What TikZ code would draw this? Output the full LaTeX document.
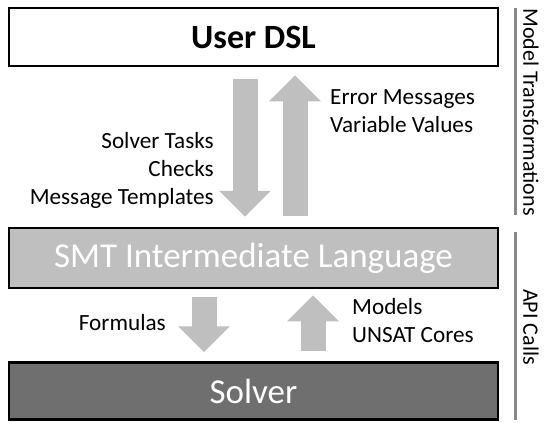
\documentclass[tikz,border=0pt]{standalone}
\usepackage{fontspec}
\setmainfont{Carlito}
\usepackage{xcolor}
\usetikzlibrary{arrows.meta, positioning}

\definecolor{lightgrey}{HTML}{BFBFBF}
\definecolor{darkgrey}{HTML}{6F6F6F}
\definecolor{bargrey}{HTML}{888888}

\begin{document}
\begin{tikzpicture}[
    x=1pt, y=-1pt,
    tier/.style={rectangle, draw, line width=2.5pt, minimum width=489pt, font=\fontsize{35}{38}\selectfont},
    flow/.style={draw=lightgrey, line width=25pt, -{Triangle[width=50pt, length=26pt]}},
    note/.style={font=\fontsize{23.2}{28}\selectfont, inner sep=0pt},
    side/.style={font=\fontsize{22}{26}\selectfont, rotate=-90, inner sep=0pt},
    bar/.style={draw=bargrey, line width=3pt}
]
\useasboundingbox (0,0) rectangle (544,423);

% Layers
\node[tier, fill=white, minimum height=58pt, font=\fontsize{34}{36}\selectfont\bfseries] (dsl) at (253.5,37) {User DSL};
\node[tier, fill=lightgrey, text=white, minimum height=60pt] (smt) at (253.5,258) {SMT Intermediate Language};
\node[tier, fill=darkgrey, text=white, minimum height=57pt] (solver) at (253.5,391) {Solver};

% Model transformation arrows
\draw[flow] ([xshift=-8.5pt, yshift=-12pt]dsl.south) -- ([xshift=-8.5pt, yshift=10pt]smt.north);
\draw[flow] ([xshift=41.5pt, yshift=11pt]smt.north) -- ([xshift=41.5pt, yshift=-8pt]dsl.south);

% API call arrows
\draw[flow] ([xshift=-49.5pt, yshift=-8pt]smt.south) -- ([xshift=-49.5pt, yshift=9pt]solver.north);
\draw[flow] ([xshift=59.5pt, yshift=10pt]solver.north) -- ([xshift=59.5pt, yshift=-6pt]smt.south);

% Labels
\node[note, align=right, anchor=east] (tasks) at (214,170) {Solver Tasks\\Checks\\Message Templates};
\node[note, align=left, anchor=west] (errors) at (330,111) {Error Messages\\Variable Values};
\node[note, anchor=east] (formulas) at (166,323) {Formulas};
\node[note, align=left, anchor=west] (models) at (352,321) {Models\\UNSAT Cores};

% Side brackets
\draw[bar] (515,8) -- (515,215);
\draw[bar] (515,232) -- (515,420);
\node[side] (transform) at (531,112) {Model Transformations};
\node[side] (api) at (531,327) {API Calls};

\end{tikzpicture}
\end{document}
